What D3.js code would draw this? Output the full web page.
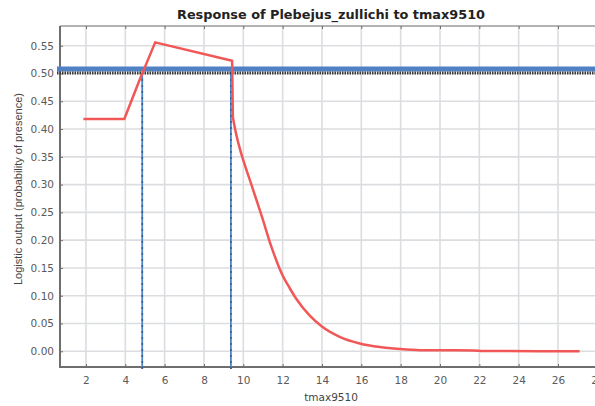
<!DOCTYPE html>
<html>
<head>
<meta charset="utf-8">
<script src="https://cdn.jsdelivr.net/npm/d3@7"></script>
<style>
	body { margin: 0; background: #fff; }
	svg { display: block; font-family: "Liberation Sans", Arial, sans-serif; }
</style>
</head>
<body>
<div id="chart"></div>
<script>
// values
var responseX = [1.87, 3.95, 4.71, 5.52, 9.43, 9.47, 9.6, 9.83, 10.1, 10.42, 10.93, 11.43, 11.94, 12.37, 12.7, 13.38, 13.98, 14.9, 15.92, 16.94, 17.96, 19, 21.7, 22.2, 27.1];
var responseY = [0.418, 0.418, 0.487, 0.556, 0.523, 0.421, 0.397, 0.364, 0.333, 0.299, 0.244, 0.188, 0.141, 0.113, 0.094, 0.064, 0.045, 0.026, 0.014, 0.0075, 0.004, 0.002, 0.0015, 0.0005, 0.0];
var xTicks = [2, 4, 6, 8, 10, 12, 14, 16, 18, 20, 22, 24, 26, 28];
var yTicks = [0, 0.05, 0.1, 0.15, 0.2, 0.25, 0.3, 0.35, 0.4, 0.45, 0.5, 0.55];
var blueLevel = 0.508;
var threshold = 0.5;
var crossX = [4.86, 9.37];
var dropIndex = 5; // curve is smooth from here on

var attrs = {
	width: 595,
	height: 406,
	left: 60,
	top: 26,
	bottom: 367,
	right: 617,
	tickFont: '"DejaVu Sans", Verdana, sans-serif'
};

var svg = d3.select('#chart').append('svg')
	.attr('width', attrs.width)
	.attr('height', attrs.height);

var x = d3.scaleLinear().domain([0.68, 29]).range([attrs.left, attrs.right]);
var y = d3.scaleLinear().domain([-0.0283, 0.5855]).range([attrs.bottom, attrs.top]);

// grid
svg.append('g').selectAll('line').data(xTicks).enter().append('line')
	.attr('x1', d => x(d)).attr('x2', d => x(d))
	.attr('y1', attrs.top).attr('y2', attrs.bottom)
	.attr('stroke', '#dcdde0').attr('stroke-width', 1.6);
svg.append('g').selectAll('line').data(yTicks).enter().append('line')
	.attr('x1', attrs.left).attr('x2', attrs.width)
	.attr('y1', d => y(d)).attr('y2', d => y(d))
	.attr('stroke', '#dcdde0').attr('stroke-width', 1.6);

// frame top
svg.append('line')
	.attr('x1', attrs.left).attr('x2', attrs.width)
	.attr('y1', attrs.top).attr('y2', attrs.top)
	.attr('stroke', '#9a9a9a').attr('stroke-width', 1.5);

// axes with inside ticks
var xAxis = svg.append('g')
	.attr('transform', 'translate(0,' + attrs.bottom + ')')
	.call(d3.axisBottom(x).tickValues(xTicks).tickSizeInner(-3).tickSizeOuter(0).tickPadding(10).tickFormat(d3.format('d')));
var xTop = svg.append('g')
	.attr('transform', 'translate(0,' + attrs.top + ')')
	.call(d3.axisTop(x).tickValues(xTicks).tickSizeInner(-3).tickSizeOuter(0).tickFormat(''));
xTop.select('.domain').remove();
var yAxis = svg.append('g')
	.attr('transform', 'translate(' + attrs.left + ',0)')
	.call(d3.axisLeft(y).tickValues(yTicks).tickSizeInner(-3).tickSizeOuter(0).tickPadding(6).tickFormat(d3.format('.2f')));

[xAxis, yAxis].forEach(function (g) {
	g.select('.domain').attr('stroke', '#6e6e6e').attr('stroke-width', 2);
	g.selectAll('.tick line').attr('stroke', '#6e6e6e');
	g.selectAll('.tick text').attr('fill', '#5a5a5a')
		.style('font-size', '10.5px').style('font-family', attrs.tickFont);
});
xTop.selectAll('.tick line').attr('stroke', '#6e6e6e');
xAxis.select('.domain').attr('d', 'M' + (attrs.left - 1) + ',0H' + attrs.width);
yAxis.select('.domain').attr('d', 'M0,' + attrs.top + 'V' + (attrs.bottom + 1));

// blue level line and dotted threshold
svg.append('line')
	.attr('x1', attrs.left - 3).attr('x2', attrs.width)
	.attr('y1', y(blueLevel)).attr('y2', y(blueLevel))
	.attr('stroke', '#4f81c4').attr('stroke-width', 5);
svg.append('line')
	.attr('x1', attrs.left - 3).attr('x2', attrs.width)
	.attr('y1', y(threshold) - 0.5).attr('y2', y(threshold) - 0.5)
	.attr('stroke', '#3a3a3a').attr('stroke-width', 3)
	.attr('stroke-dasharray', '1.5,1');

// vertical crossing lines
crossX.forEach(function (cx) {
	svg.append('line')
		.attr('x1', x(cx)).attr('x2', x(cx))
		.attr('y1', y(threshold)).attr('y2', attrs.bottom + 2)
		.attr('stroke', '#4a86d0').attr('stroke-width', 1.8);
	svg.append('line')
		.attr('x1', x(cx)).attr('x2', x(cx))
		.attr('y1', y(threshold)).attr('y2', attrs.bottom + 2)
		.attr('stroke', '#333').attr('stroke-width', 1.8)
		.attr('stroke-dasharray', '1,5');
});

// response curve: straight pieces, then a smooth decay
var pts = responseX.map((d, i) => [d, responseY[i]]);
var line = d3.line().x(d => x(d[0])).y(d => y(d[1]));
var smooth = d3.line().x(d => x(d[0])).y(d => y(d[1])).curve(d3.curveMonotoneX);
svg.append('path')
	.attr('fill', 'none')
	.attr('stroke', '#f25757')
	.attr('stroke-width', 2.5)
	.attr('stroke-linejoin', 'round')
	.attr('d', line(pts.slice(0, dropIndex + 1)) + smooth(pts.slice(dropIndex)).replace(/^M/, 'L'));

// titles
svg.append('text')
	.attr('x', 331).attr('y', 19)
	.attr('text-anchor', 'middle')
	.attr('textLength', 308)
	.attr('lengthAdjust', 'spacingAndGlyphs')
	.style('font-size', '12px').style('font-weight', 'bold')
	.style('font-family', attrs.tickFont)
	.attr('fill', '#222')
	.text('Response of Plebejus_zullichi to tmax9510');
svg.append('text')
	.attr('x', 331).attr('y', 401)
	.attr('text-anchor', 'middle')
	.style('font-size', '10.5px')
	.style('font-family', attrs.tickFont)
	.attr('fill', '#444')
	.text('tmax9510');
svg.append('text')
	.attr('transform', 'translate(22,189) rotate(-90)')
	.attr('text-anchor', 'middle')
	.style('font-size', '11px')
	.attr('fill', '#444')
	.text('Logistic output (probability of presence)');
</script>
</body>
</html>
